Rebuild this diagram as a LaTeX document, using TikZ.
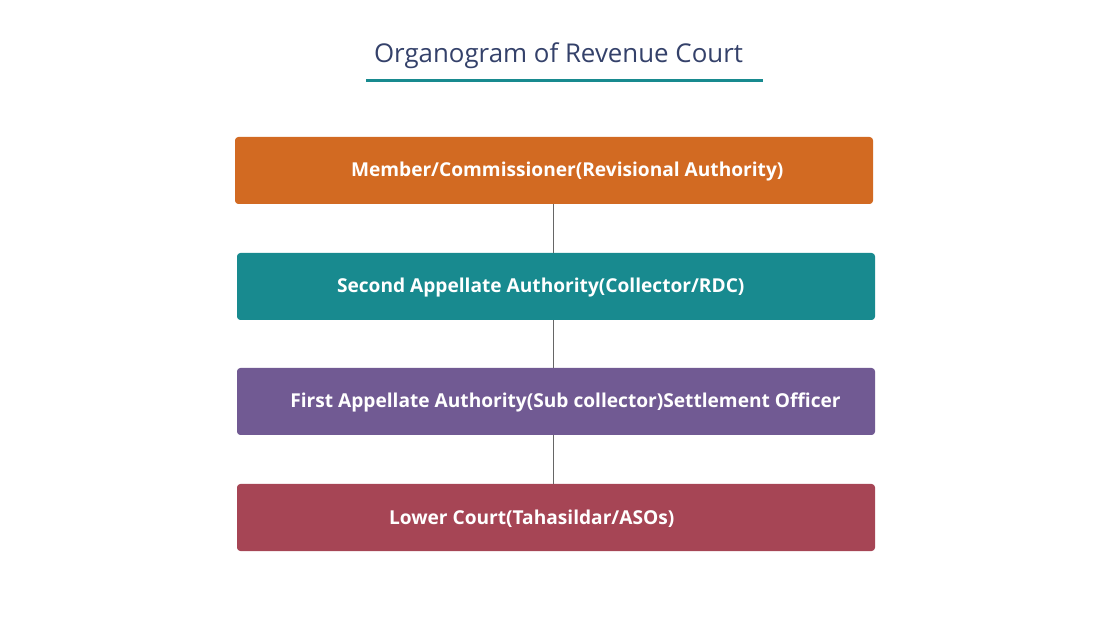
\documentclass[tikz,border=0pt]{standalone}
\usepackage{fontspec}
\setmainfont{Open Sans}
\usepackage{xcolor}
\usetikzlibrary{positioning}

\definecolor{titleblue}{HTML}{34416A}
\definecolor{revorange}{HTML}{D26A22}
\definecolor{revteal}{HTML}{188A8F}
\definecolor{revpurple}{HTML}{715A93}
\definecolor{revred}{HTML}{A64555}

\tikzset{
    level/.style={rectangle, rounded corners=2.5pt, fill=#1, draw=none,
        minimum width=478.5pt, minimum height=50.25pt, inner sep=0pt},
    levtext/.style={text=white, font=\fontsize{14.35}{17}\selectfont\bfseries, inner sep=0pt, yshift=-0.6pt},
    link/.style={draw=black!60, line width=0.75pt}
}

\begin{document}
\begin{tikzpicture}[x=0.75pt, y=-0.75pt]
        \useasboundingbox (0,0) rectangle (1100,641);

        \node[font=\fontsize{19.4}{22}\selectfont, text=titleblue] (title) at (558.5,55.5) {Organogram of Revenue Court};
        \draw[revteal, line width=2.4pt] (366,80.5) -- (763,80.5);

        \node[level=revorange] (l1) at (554,170.5) {};
        \node[level=revteal]   (l2) at (556,286.5) {};
        \node[level=revpurple] (l3) at (556,401.5) {};
        \node[level=revred]    (l4) at (556,517.5) {};

        \node[levtext, right=87pt of l1.west]  (t1) {Member/Commissioner(Revisional Authority)};
        \node[levtext, right=75pt of l2.west]  (t2) {Second Appellate Authority(Collector/RDC)};
        \node[levtext, right=40pt of l3.west]  (t3) {First Appellate Authority(Sub collector)Settlement Officer};
        \node[levtext, right=114pt of l4.west] (t4) {Lower Court(Tahasildar/ASOs)};

        \draw[link] (l1.south -| 553,0) -- (l2.north -| 553,0);
        \draw[link] (l2.south -| 553,0) -- (l3.north -| 553,0);
        \draw[link] (l3.south -| 553,0) -- (l4.north -| 553,0);
\end{tikzpicture}
\end{document}
